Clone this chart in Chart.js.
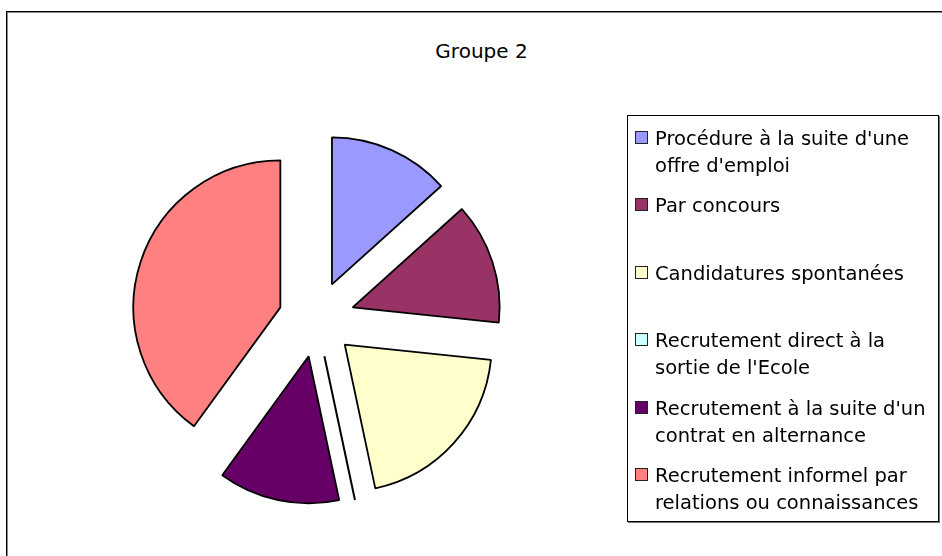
<!DOCTYPE html>
<html lang="fr">
<head>
<meta charset="utf-8">
<title>Groupe 2</title>
<script src="https://cdn.jsdelivr.net/npm/chart.js@4/dist/chart.umd.min.js"></script>
<style>
  html, body { margin: 0; padding: 0; background: #fff; overflow: hidden; }
  body { width: 942px; height: 556px; position: relative; font-family: "DejaVu Sans", sans-serif; color: #000; }
  #frame { position: absolute; left: 6px; top: 11px; width: 960px; height: 560px; border: 1px solid #000; box-shadow: inset 1px 1px 0 #8a8a8a; }
  #pie { position: absolute; left: 0; top: 0; }
  #title { position: absolute; left: 0; top: 40px; width: 963px; text-align: center; font-size: 20px; line-height: 22px; }
  #legend { position: absolute; left: 627px; top: 115px; width: 312px; height: 407px; box-sizing: border-box; padding-top: 9px;
            border: 1px solid #000; box-shadow: 1px 1px 0 #777; background: #fff; }
  .item { position: relative; height: 67.4px; padding-left: 27px; font-size: 19.5px; line-height: 27px; white-space: nowrap; }
  .swatch { position: absolute; left: 7px; top: 6px; width: 11px; height: 11px; border: 1.5px solid #222; }
</style>
</head>
<body>
<div id="frame"></div>
<div id="title"></div>
<canvas id="pie" width="942" height="556"></canvas>
<div id="legend"></div>
<script>
/* Camembert éclaté "Groupe 2" : modes de recrutement */

const TITLE = "Groupe 2";
const LABELS = [
  ["Procédure à la suite d'une", "offre d'emploi"],
  ["Par concours"],
  ["Candidatures spontanées"],
  ["Recrutement direct à la", "sortie de l'Ecole"],
  ["Recrutement à la suite d'un", "contrat en alternance"],
  ["Recrutement informel par", "relations ou connaissances"],
];
const COUNTS = [2, 2, 3, 0, 2, 6];
const COLORS = ["#9999FF", "#993366", "#FFFFCC", "#CCFFFF", "#660066", "#FF8080"];
const EXPLODE = 38; // décalage de chaque part vers l'extérieur (px)

// Part de camembert décalée le long de sa bissectrice, même rayon pour toutes
class ExplodedArc extends Chart.ArcElement {
  draw(ctx) {
    const mid = (this.startAngle + this.endAngle) / 2;
    ctx.save();
    ctx.translate(Math.cos(mid) * EXPLODE, Math.sin(mid) * EXPLODE);
    if (this.circumference === 0) {
      // une part à zéro reste visible sous forme de simple rayon
      const a = this.startAngle;
      ctx.beginPath();
      ctx.moveTo(this.x, this.y);
      ctx.lineTo(this.x + Math.cos(a) * this.outerRadius, this.y + Math.sin(a) * this.outerRadius);
      ctx.strokeStyle = this.options.borderColor;
      ctx.lineWidth = 2;
      ctx.stroke();
    } else {
      super.draw(ctx);
    }
    ctx.restore();
  }
}
ExplodedArc.id = "explodedArc";

class ExplodedPie extends Chart.PieController {}
ExplodedPie.id = "explodedPie";
ExplodedPie.defaults = { dataElementType: "explodedArc" };

Chart.register(ExplodedArc, ExplodedPie);

document.getElementById("title").textContent = TITLE;

new Chart(document.getElementById("pie"), {
  type: "explodedPie",
  data: {
    labels: LABELS,
    datasets: [
      {
        data: COUNTS,
        backgroundColor: COLORS,
        borderColor: "#000",
        borderWidth: 1.8,
      },
    ],
  },
  options: {
    responsive: false,
    animation: false,
    events: [],
    layout: { padding: { left: 168.5, right: 477.5, top: 171.2, bottom: 89 } },
    plugins: {
      legend: { display: false },
      tooltip: { enabled: false },
    },
  },
});

// légende encadrée à droite, libellés sur deux lignes
document.getElementById("legend").innerHTML = LABELS.map(
  (lines, i) =>
    `<div class="item"><span class="swatch" style="background:${COLORS[i]}"></span>${lines.join("<br>")}</div>`
).join("");
</script>
</body>
</html>
